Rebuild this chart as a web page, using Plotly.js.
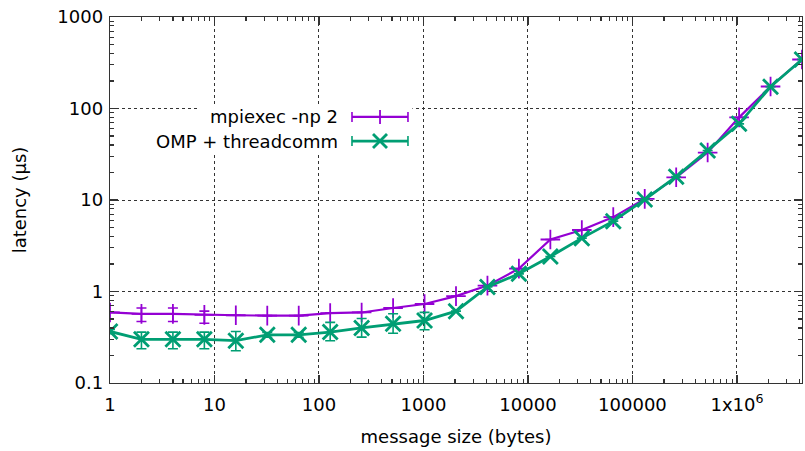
<!DOCTYPE html>
<html>
<head>
<meta charset="utf-8">
<script src="https://cdn.plot.ly/plotly-3.0.1.min.js"></script>
<style>html,body{margin:0;padding:0;background:#fff}#chart{width:805px;height:451px}</style>
</head>
<body>
<div id="chart"></div>
<script>
// message sizes (bytes)
const sizes = [1,2,4,8,16,32,64,128,256,512,1024,2048,4096,8192,16384,32768,65536,131072,262144,524288,1048576,2097152,4194304];
// mpiexec -np 2 latency (us)
const mpiLatency = [0.59,0.57,0.57,0.555,0.55,0.545,0.545,0.58,0.59,0.66,0.73,0.89,1.16,1.78,3.7,4.7,6.5,10.3,17.7,33,80,174,343];
const mpiErrPlus  = [0,0.09,0.09,0.055,0,0,0,0,0,0,0,0,0,0,0,0,0,0,0,0,0,0,0];
const mpiErrMinus = [0,0.10,0.10,0.105,0,0,0,0,0,0,0,0,0,0,0,0,0,0,0,0,0,0,0];
// OMP + threadcomm latency (us)
const ompLatency = [0.366,0.30,0.30,0.30,0.29,0.336,0.336,0.36,0.40,0.443,0.482,0.61,1.12,1.56,2.41,3.83,5.87,10.1,18,34.8,68,173,343];
const ompErrPlus  = [0.02,0.06,0.06,0.06,0.075,0.02,0.02,0.10,0.107,0.128,0.11,0,0,0,0,0,0,0,0,0,0,0,0];
const ompErrMinus = [0.02,0.063,0.063,0.063,0.065,0.02,0.02,0.07,0.083,0.093,0.10,0,0,0,0,0,0,0,0,0,0,0,0];
// tick labels
const xTickVals = [1,10,100,1000,10000,100000,1000000];
const xTickText = ['1','10','100','1000','10000','100000','1x10<sup>6</sup>'];
const yTickVals = [0.1,1,10,100,1000];
const yTickText = ['0.1','1','10','100','1000'];
const seriesNames = ['mpiexec -np 2','OMP + threadcomm'];

const purple = '#9400d3', green = '#009e73';
const FONT = 'DejaVu Sans';
const FS = 18;

const traces = [
  {x: sizes, y: mpiLatency, name: seriesNames[0], type: 'scatter', mode: 'lines+markers',
   line: {color: purple, width: 2.2},
   marker: {symbol: 'cross-thin-open', size: 14, color: purple, line: {color: purple, width: 1.8}},
   error_y: {type: 'data', symmetric: false, array: mpiErrPlus, arrayminus: mpiErrMinus, color: purple, thickness: 1.6, width: 5},
   showlegend: false},
  {x: sizes, y: ompLatency, name: seriesNames[1], type: 'scatter', mode: 'lines+markers',
   line: {color: green, width: 2.8},
   marker: {symbol: 'x-thin-open', size: 15, color: green, line: {color: green, width: 2.8}},
   error_y: {type: 'data', symmetric: false, array: ompErrPlus, arrayminus: ompErrMinus, color: green, thickness: 1.6, width: 5},
   showlegend: false}
];

// manual gnuplot-style legend (text left of sample)
const legX0 = 0.3497, legX1 = 0.4306, legXm = 0.3902, legText = 0.3324;
const legY = [0.727, 0.661];
const shapes = [
  {type:'rect', xref:'paper', yref:'paper', x0:0.13, x1:0.437, y0:0.628, y1:0.76, fillcolor:'#fff', line:{width:0}, layer:'above'}
];
const colors = [purple, green];
const annotations = [];
legY.forEach((yy, i) => {
  const c = colors[i];
  shapes.push({type:'line', xref:'paper', yref:'paper', x0:legX0, x1:legX1, y0:yy, y1:yy, line:{color:c, width: i ? 2.8 : 2.2}, layer:'above'});
  [legX0, legX1].forEach(xx => shapes.push({type:'line', xref:'paper', yref:'paper', xsizemode:'pixel', ysizemode:'pixel', xanchor:xx, yanchor:yy, x0:0, x1:0, y0:-5, y1:5, line:{color:c, width:1.6}, layer:'above'}));
  if (i === 0) {
    shapes.push({type:'line', xref:'paper', yref:'paper', xsizemode:'pixel', ysizemode:'pixel', xanchor:legXm, yanchor:yy, x0:0, x1:0, y0:-7, y1:7, line:{color:c, width:1.8}, layer:'above'});
  } else {
    shapes.push({type:'line', xref:'paper', yref:'paper', xsizemode:'pixel', ysizemode:'pixel', xanchor:legXm, yanchor:yy, x0:-7, x1:7, y0:-7, y1:7, line:{color:c, width:2.8}, layer:'above'});
    shapes.push({type:'line', xref:'paper', yref:'paper', xsizemode:'pixel', ysizemode:'pixel', xanchor:legXm, yanchor:yy, x0:-7, x1:7, y0:7, y1:-7, line:{color:c, width:2.8}, layer:'above'});
  }
  annotations.push({xref:'paper', yref:'paper', x:legText, y:yy, xanchor:'right', yanchor:'middle', text:seriesNames[i], showarrow:false, font:{family:FONT, size:FS, color:'#000'}});
});

const axisCommon = {
  type: 'log', showline: true, linecolor: '#333', linewidth: 1.3, mirror: 'allticks',
  ticks: 'inside', ticklen: 8, tickcolor: '#333', tickwidth: 1.2,
  showgrid: true, gridcolor: '#333', griddash: 'dot', gridwidth: 1, zeroline: false,
  tickfont: {family: FONT, size: FS, color: '#000'},
  minor: {ticks: 'inside', ticklen: 4, tickcolor: '#333', tickwidth: 1.2, dtick: 'D1', showgrid: false}
};

const layout = {
  width: 805, height: 451,
  margin: {l: 110, r: 3, t: 17, b: 68},
  paper_bgcolor: '#fff', plot_bgcolor: '#fff',
  showlegend: false,
  xaxis: Object.assign({}, axisCommon, {
    range: [0, Math.log10(4194304)], tickmode: 'array', tickvals: xTickVals, ticktext: xTickText,
    ticklabelstandoff: 5,
    title: {text: 'message size (bytes)', font: {family: FONT, size: FS, color: '#000'}, standoff: 16}
  }),
  yaxis: Object.assign({}, axisCommon, {
    range: [-1, 3], tickmode: 'array', tickvals: yTickVals, ticktext: yTickText,
    ticklabelstandoff: 2,
    title: {text: 'latency (μs)', font: {family: FONT, size: FS, color: '#000'}, standoff: 26}
  }),
  shapes: shapes,
  annotations: annotations
};

Plotly.newPlot('chart', traces, layout, {staticPlot: true, displayModeBar: false});
</script>
</body>
</html>
